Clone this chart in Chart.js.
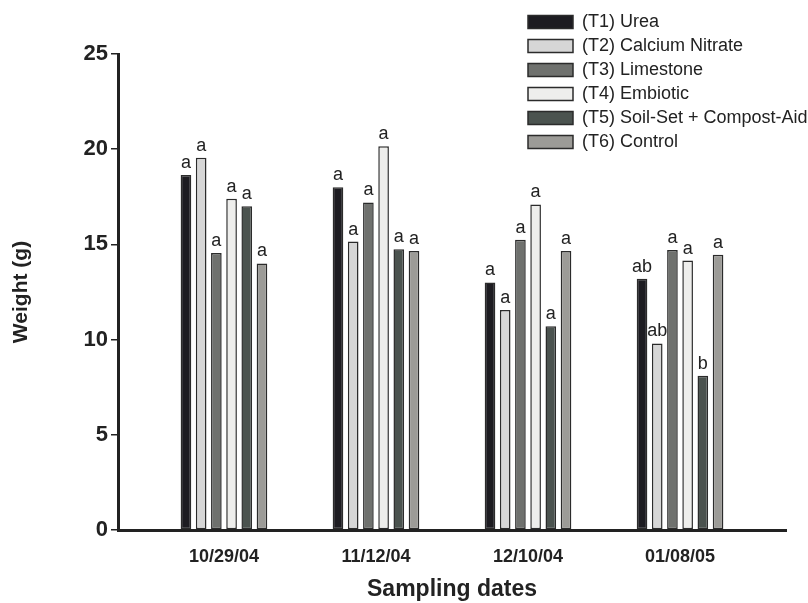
<!DOCTYPE html>
<html>
<head>
<meta charset="utf-8">
<script src="https://cdn.jsdelivr.net/npm/chart.js@4.4.1/dist/chart.umd.min.js"></script>
<style>
  html, body { margin: 0; padding: 0; background: #fff; }
</style>
</head>
<body>
<canvas id="weightChart" width="808" height="603"></canvas>
<script>
const dates = ['10/29/04', '11/12/04', '12/10/04', '01/08/05'];

const urea = [18.65, 18.0, 13.0, 13.2];
const calciumNitrate = [19.55, 15.15, 11.55, 9.8];
const limestone = [14.55, 17.2, 15.25, 14.7];
const embiotic = [17.4, 20.15, 17.1, 14.15];
const soilSet = [17.0, 14.75, 10.7, 8.1];
const control = [14.0, 14.65, 14.65, 14.45];

const ureaLetters = ['a', 'a', 'a', 'ab'];
const calciumNitrateLetters = ['a', 'a', 'a', 'ab'];
const limestoneLetters = ['a', 'a', 'a', 'a'];
const embioticLetters = ['a', 'a', 'a', 'a'];
const soilSetLetters = ['a', 'a', 'a', 'b'];
const controlLetters = ['a', 'a', 'a', 'a'];

const ink = '#222222';
Chart.defaults.font.family = '"Liberation Sans", Arial, sans-serif';
Chart.defaults.color = ink;

const makeSet = (label, values, letters, fill) => ({
    label: label,
    data: values.map((v, i) => ({ x: i + 1, y: v })),
    letters: letters,
    backgroundColor: fill,
    borderColor: '#2b2b2b',
    borderWidth: 1.5,
    borderSkipped: false,
    categoryPercentage: 0.6,
    barPercentage: 0.7
});

// significance letters above each bar
const letterPlugin = {
    id: 'letters',
    afterDatasetsDraw(chart) {
        const ctx = chart.ctx;
        ctx.save();
        ctx.font = '18px "Liberation Sans", Arial, sans-serif';
        ctx.fillStyle = ink;
        ctx.textAlign = 'center';
        ctx.textBaseline = 'bottom';
        chart.data.datasets.forEach((ds, i) => {
            chart.getDatasetMeta(i).data.forEach((bar, j) => {
                ctx.fillText(ds.letters[j], bar.x, bar.y - 3);
            });
        });
        ctx.restore();
    }
};

// put the legend in the top right corner, over the plot
const legendPlacer = {
    id: 'legendPlacer',
    afterLayout(chart) {
        const lg = chart.legend;
        lg.left = 522;
        lg.top = 7;
        lg.right = 808;
        lg.bottom = 200;
        lg.width = 286;
        lg.height = 193;
    }
};

new Chart(document.getElementById('weightChart'), {
    type: 'bar',
    data: {
        datasets: [
            makeSet('(T1) Urea', urea, ureaLetters, '#1d1c21'),
            makeSet('(T2) Calcium Nitrate', calciumNitrate, calciumNitrateLetters, '#d6d6d6'),
            makeSet('(T3) Limestone', limestone, limestoneLetters, '#6f716e'),
            makeSet('(T4) Embiotic', embiotic, embioticLetters, '#eeeeec'),
            makeSet('(T5) Soil-Set + Compost-Aid', soilSet, soilSetLetters, '#4b534f'),
            makeSet('(T6) Control', control, controlLetters, '#9c9b97')
        ]
    },
    options: {
        responsive: false,
        animation: false,
        layout: { padding: { top: 54, right: 22, left: 0, bottom: 0 } },
        plugins: {
            legend: {
                position: 'chartArea',
                align: 'start',
                labels: {
                    boxWidth: 45,
                    boxHeight: 13,
                    padding: 6,
                    color: ink,
                    font: { size: 18 }
                }
            },
            tooltip: { enabled: false }
        },
        scales: {
            x: {
                type: 'linear',
                offset: false,
                min: 0.303,
                max: 4.697,
                afterBuildTicks: (s) => { s.ticks = dates.map((d, i) => ({ value: i + 1 })); },
                ticks: {
                    callback: (v) => dates[v - 1],
                    autoSkip: false,
                    maxRotation: 0,
                    padding: 8,
                    color: ink,
                    font: { size: 18, weight: 'bold' }
                },
                grid: { display: false },
                border: { color: ink, width: 3 },
                title: {
                    display: true,
                    text: 'Sampling dates',
                    color: ink,
                    padding: { top: 0, bottom: 0 },
                    font: { size: 23, weight: 'bold' }
                },
                afterFit: (s) => { s.height = 73; }
            },
            y: {
                min: 0,
                max: 25,
                ticks: {
                    stepSize: 5,
                    padding: 3,
                    color: ink,
                    font: { size: 22, weight: 'bold' }
                },
                grid: { drawOnChartArea: false, tickLength: 7, color: ink, lineWidth: 1.5 },
                border: { color: ink, width: 3 },
                title: {
                    display: true,
                    text: 'Weight (g)',
                    color: ink,
                    padding: { top: 9, bottom: 0 },
                    font: { size: 21, weight: 'bold' }
                },
                afterFit: (s) => { s.width = 118; }
            }
        }
    },
    plugins: [letterPlugin, legendPlacer]
});
</script>
</body>
</html>
